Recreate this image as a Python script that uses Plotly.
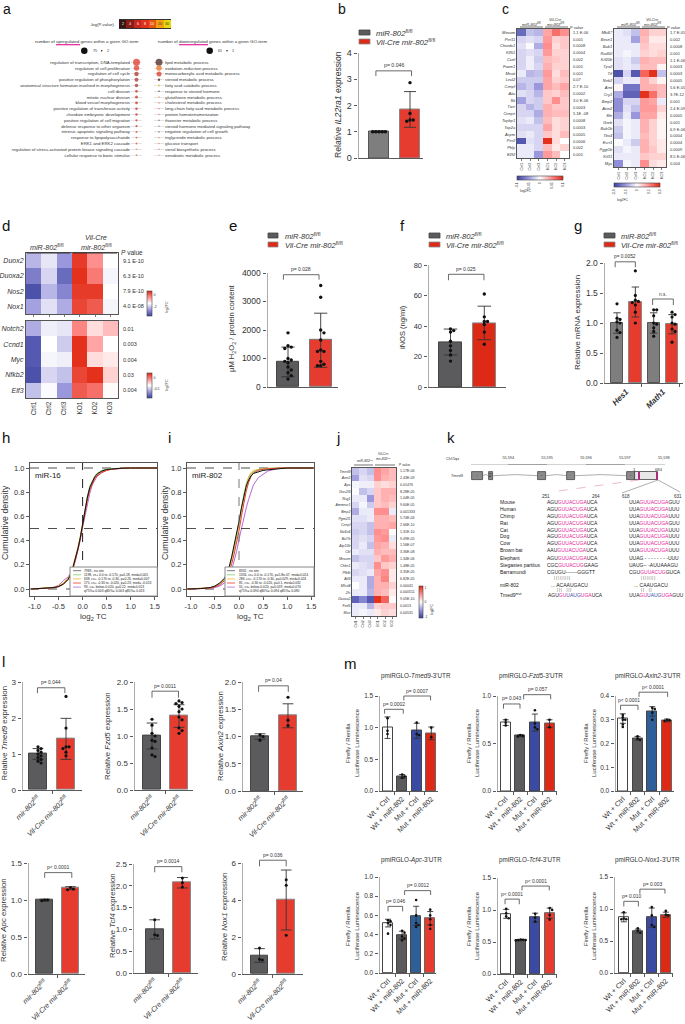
import plotly.graph_objects as go

W, H = 685, 1024
FONT = "Liberation Sans"
TXT = "#333333"
AX = "#5a5a5a"
GREY = "#5b5a5c"
GREY2 = "#7f7e7e"
RED = "#e63c30"
RED2 = "#dd2a17"
BLUE = "#3b4aa3"
STEEL = "#2f5f98"
PINK = "#e6219a"
FL = "<sup>fl/fl</sup>"
MIR = f"<i>miR-802</i>{FL}"
VIL = f"<i>Vil-Cre mir-802</i>{FL}"
CTRL_KO = ["Ctrl1", "Ctrl2", "Ctrl3", "KO1", "KO2", "KO3"]
HSCALE = [[0, "#383f9e"], [0.25, "#9a97dc"], [0.5, "#ffffff"], [0.75, "#ff8f8f"], [1, "#e0260f"]]

# ---- panel a
A_UP_TERMS = ["regulation of transcription, DNA-templated", "regulation of cell proliferation", "regulation of cell cycle",
              "positive regulation of phosphorylation", "anatomical structure formation involved in morphogenesis", "cell division",
              "mitotic nuclear division", "blood vessel morphogenesis", "positive regulation of transferase activity",
              "chordate embryonic development", "positive regulation of cell migration", "defense response to other organism",
              "intrinsic apoptotic signaling pathway", "response to lipopolysaccharide", "ERK1 and ERK2 cascade",
              "regulation of stress-activated protein kinase signaling cascade", "cellular response to biotic stimulus"]
A_UP_SIZE = [7, 5.5, 4.5, 4, 3.5, 2.8, 3, 2.6, 2.6, 2.4, 2.2, 2.2, 2, 1.8, 1.8, 1.6, 1.6]
A_UP_COL = ["#dd2a1a", "#dd3020", "#a52a20", "#a52a20", "#a52a20", "#c52a1c", "#c0241a", "#c0241a", "#c0241a", "#c0241a",
            "#c0241a", "#c0241a", "#d0301a", "#e0402a", "#e0402a", "#f06030", "#e0402a"]
A_DOWN_TERMS = ["lipid metabolic process", "oxidation-reduction process", "monocarboxylic acid metabolic process",
                "steroid metabolic process", "fatty acid catabolic process", "response to steroid hormone",
                "glutathione metabolic process", "cholesterol metabolic process", "long-chain fatty acid metabolic process",
                "protein homotetramerization", "thioester metabolic process", "steroid hormone mediated signaling pathway",
                "negative regulation of cell growth", "triglyceride metabolic process", "glucose transport",
                "sterol biosynthetic process", "xenobiotic metabolic process"]
A_DOWN_SIZE = [7, 5.5, 5, 2.5, 1.8, 1.6, 1.6, 1.5, 1.5, 1.5, 1.4, 1.4, 1.5, 1.4, 1.4, 1.4, 1.4]
A_DOWN_COL = ["#3a1512", "#e8680f", "#dd2a1a", "#3a1512", "#f4a81a", "#3a1512", "#f49030", "#e8604a", "#e8604a", "#e8604a",
              "#5a2a2a", "#5a2a2a", "#7a2a2a", "#e8604a", "#e8604a", "#e8604a", "#e8604a"]
A_SCALE_LABELS = ["2", "4", "6", "8", "10", "20", "30"]
A_SCALE_COL = ["#3a1512", "#8a1d15", "#c5281c", "#e0321e", "#e8560f", "#f4a10f", "#e8d80f"]

# ---- panel b
B_MEAN = [1.0, 1.85]
B_SD = [0.03, 0.68]
B_PTS = [[1.0, 1.0, 1.0, 1.0, 1.0], [2.87, 1.7, 1.45, 1.45, 1.4]]

# ---- panel c
C1_GENES = ["Mecom", "Per11", "Chordc1", "Klf51", "Ccnf", "Foxm1", "Meati", "Lecl2", "Cenpf", "Atic", "Sk", "Ticrr", "Cenpe",
            "Topbp1", "Top2a", "Aspm", "Per2", "Phlp", "E2f2"]
C1_P = ["1.1 E-06", "0.001", "0.0008", "0.0004", "0.002", "0.001", "0.001", "0.07", "2.7 E-10", "0.0002", "3.0 E-06", "0.0003",
        "5.1E -08", "0.0008", "0.0003", "0.0005", "0.0006", "0.002", "0.001"]
C1_Z = [[-.75, -.3, -.35, .4, .65, .5], [-.2, -.15, -.2, .45, .2, .25], [-.15, -.02, -.4, .5, .15, .25],
        [-.2, -.15, -.2, .45, .2, .2], [-.2, -.08, -.25, .3, .25, .2], [-.2, -.08, -.2, .35, .2, .2],
        [-.1, -.35, -.3, .45, .15, .3], [-.25, -.25, -.25, .4, .2, .25], [-.35, -.25, -.5, .4, .3, .4],
        [-.15, -.2, -.35, .25, .2, .3], [-.45, -.2, -.25, .25, .5, .25], [-.2, -.35, -.25, .35, .25, .25],
        [-.2, -.2, -.4, .35, .3, .3], [-.15, -.1, -.3, .3, .15, .2], [-.2, -.2, -.2, .4, .15, .2],
        [-.15, -.1, -.2, .25, .15, .3], [-.85, -.15, -.2, .95, .15, 0], [-.1, -.1, -.2, .3, .1, .2],
        [-.1, -.1, -.5, .45, .3, 0]]
C2_GENES = ["Mki67", "Becn1", "Bub1", "Rad50", "Kif20b", "Tpx2", "Ttf", "Nek2", "Arnt", "Cry1", "Bmp2", "Axin2", "Sfn", "Gorb",
            "Bub1b", "Tbx3", "Esrr1", "Pggt1b", "Kif11", "Myc"]
C2_P = ["1.7 E-05", "0.002", "0.0008", "0.001", "1.1 E-06", "0.0003", "0.0003", "0.0005", "5.6 E-05", "3.7E-12", "0.001",
        "2.4 E-09", "0.0005", "0.001", "6.9 E-06", "0.0004", "0.0004", "0.0009", "8.5 E-06", "0.004"]
C2_Z = [[-.1, -.15, -.3, .35, .2, .2], [-.1, -.1, -.45, .3, .1, .1], [-.1, -.1, -.1, .25, .15, .15],
        [-.1, -.05, -.1, .2, .15, .2], [-.15, -.1, -.25, .35, .3, .3], [-.15, -.1, -.15, .3, .3, .05],
        [-.9, -.2, -.85, .7, .95, -.3], [-.2, -.1, -.1, .35, .2, .05], [.05, -.7, -.7, .35, .35, .3],
        [-.4, -.8, -.8, .95, .65, .3], [-.55, -.2, -.2, .45, .4, -.1], [-.55, -.15, -.3, .45, .45, .2],
        [-.4, -.1, -.5, .4, .4, .1], [-.15, -.05, -.1, .35, .2, .05], [-.25, -.05, -.1, .35, .2, .05],
        [-.3, -.05, -.1, .3, .2, .05], [-.02, -.1, -.25, .35, .2, .1], [-.15, -.05, -.1, .35, .25, .1],
        [-.1, -.1, -.1, .25, .2, .2], [-.55, -.05, -.1, .5, .15, .1]]

# ---- panel d
D1_GENES = ["Duox2", "Duoxa2", "Nos2", "Nox1"]
D1_P = ["9.1 E-10", "6.3 E-10", "7.9 E-10", "4.0 E-08"]
D1_Z = [[-.35, -.12, -.5, .9, .5, 0], [-.65, -.2, -.75, .95, .6, -.05], [-.9, -.35, -.6, .9, .9, 0], [-.45, -.15, -.4, .85, .75, -.05]]
D2_GENES = ["Notch2", "Ccnd1", "Myc", "Nfkb2", "Elf3"]
D2_P = ["0.01", "0.003", "0.004", "0.03", "0.004"]
D2_Z = [[-.4, -.08, -.12, .55, .15, .3], [-.85, 0, -.25, .95, .4, 0], [-.85, -.05, -.08, .95, .15, .1],
        [-.9, -.2, -.3, .85, .95, .2], [-.3, -.02, -.5, .75, .65, .02]]

# ---- panels e, f, g
E_MEAN = [880, 1640]
E_SD = [520, 950]
E_PTS = [[1900, 1450, 1400, 1350, 1000, 950, 900, 850, 700, 600, 500, 400, 280],
         [3560, 3150, 2000, 1900, 1300, 1650, 1250, 1250, 900, 800, 750, 750]]
F_MEAN = [29.5, 42]
F_SD = [8.5, 11]
F_PTS = [[38, 37, 36, 30, 27, 24, 21, 17], [61, 46, 43, 43, 41, 36, 28]]
G_MEAN = [1.0, 1.35, 1.0, 0.98]
G_SD = [0.17, 0.25, 0.17, 0.16]
G_PTS = [[1.32, 1.08, 1.06, 1.02, 1.0, 0.88, 0.84, 0.76],
         [1.87, 1.46, 1.38, 1.36, 1.34, 1.3, 1.18, 1.0],
         [1.22, 1.22, 1.12, 1.0, 0.98, 0.92, 0.86, 0.78],
         [1.18, 1.14, 1.1, 1.0, 0.98, 0.9, 0.86, 0.68]]

# ---- panels h, i
CDF_X = [-1.07, -.8, -.6, -.5, -.4, -.3, -.25, -.2, -.15, -.1, -.05, 0, .05, .1, .15, .2, .25, .3, .4, .5, .6, .8, 1, 1.55]
H_BLACK = [0, .004, .012, .02, .04, .08, .12, .18, .25, .33, .42, .54, .66, .76, .84, .89, .925, .95, .975, .988, .993, .998, 1, 1]
H_GREEN = [0, .004, .012, .02, .04, .075, .115, .175, .245, .325, .43, .55, .67, .77, .85, .895, .93, .955, .98, .99, .995, .998, 1, 1]
H_ORANGE = [0, .005, .014, .025, .05, .09, .13, .19, .26, .34, .43, .54, .65, .75, .83, .885, .92, .945, .972, .985, .992, .998, 1, 1]
H_RED = [0, .003, .01, .02, .04, .08, .115, .17, .24, .32, .41, .52, .64, .74, .82, .87, .91, .935, .965, .98, .99, .997, 1, 1]
H_PURPLE = [0, .005, .015, .03, .07, .1, .13, .17, .23, .31, .4, .51, .61, .71, .79, .86, .9, .93, .96, .98, .99, .998, 1, 1]
I_BLACK = [0, .003, .012, .025, .05, .09, .13, .19, .27, .36, .45, .56, .67, .77, .85, .9, .935, .955, .97, .98, .985, .995, 1, 1]
I_GREEN = [0, .003, .01, .022, .045, .085, .125, .18, .26, .35, .44, .55, .67, .78, .86, .915, .95, .97, .985, .992, .996, .999, 1, 1]
I_ORANGE = [0, .003, .01, .02, .04, .08, .115, .17, .24, .33, .43, .54, .67, .78, .87, .925, .96, .98, .99, .995, .998, 1, 1, 1]
I_RED = [0, .002, .008, .018, .035, .07, .1, .15, .21, .29, .38, .48, .6, .71, .81, .88, .93, .96, .98, .99, .995, .999, 1, 1]
I_PURPLE = [0, .002, .006, .012, .025, .05, .08, .11, .16, .23, .31, .41, .5, .59, .67, .74, .81, .86, .92, .95, .975, .995, 1, 1]
CDF_COLORS = ["#b46ad6", "#f5b428", "#7fd36a", "#ea3a2a", "#111111"]
H_LEG = ["7983 , no site", "1198, cs+ 0.0 to -0.170, p=0.18, med=0.005", "638, cs+ -0.170 to -0.30, p=0.26, med=0.007",
         "175, cs+ -0.30 to -0.020, p=0.23, med= -0.013", "93, cs+ below-0.020, p=0.22, med=0.013",
         "q75%= 0.003 q80%= 0.003 q85%= 0.013"]
I_LEG = ["8332 , no site", "1334, cs+ 0.0 to -0.170, p=5.8e-07, med=0.024", "286, cs+ -0.170 to -0.30, p=0.029, med=0.024",
         "81, cs+ -0.30 to -0.020, p=0.1, med=0.032", "55, cs+ below-0.020, p=0.019, med=0.070",
         "q75%= 0.094 q80%= 0.094 q85%= 0.090"]
LEG_COLORS = ["#555555", "#7fd36a", "#f5b428", "#ea3a2a", "#b46ad6"]

# ---- panel j
J_GENES = ["Tmed9", "Axin2", "Apc", "Gas2l3", "Nsg1", "Ammecr1", "Bmp2", "Pgm2l1", "Cenpf", "Slc6a6", "Bcl7b", "Atp10b", "Cbl",
           "Mecom", "Chkn1", "Pfkfb", "Atf3", "Mfsd4", "2fs", "Duoxa2", "Fzd5", "Mari"]
J_P = ["1.17E-06", "2.43E-09", "0.01476", "8.28E-05", "1.04E-05", "9.60E-05", "0.001333", "5.74E-06", "2.66E-10", "1.31E-10",
       "9.49E-05", "1.56E-07", "3.36E-08", "1.34E-06", "1.48E-05", "3.35E-05", "6.82E-05", "0.00041", "0.000511", "9.05E-10",
       "0.0013", "0.00531"]
J_Z = [[-.3, -.2, -.3, .5, .4, .3], [-.45, -.15, -.2, .5, .35, .3], [-.05, -.08, -.08, .2, .15, .2],
       [-.02, -.3, -.2, .25, .35, .35], [-.1, -.1, -.5, .25, .35, .3], [-.2, -.05, -.25, .25, .3, .2],
       [-.4, -.1, -.1, .5, .5, -.1], [-.15, -.15, -.1, .35, .35, .3], [-.2, -.2, -.3, .35, .35, .4],
       [-.25, -.2, -.3, .5, .45, .02], [-.2, -.15, -.2, .45, .5, -.1], [-.2, -.1, -.3, .4, .35, .15],
       [-.1, -.15, -.15, .35, .3, .3], [-.3, -.2, -.2, .25, .45, .35], [-.1, -.15, -.2, .5, .25, .2],
       [-.2, -.15, -.1, .4, .5, .1], [-.1, -.1, -.4, .35, .55, .1], [0, -.1, -.4, .35, .35, .2],
       [-.1, -.1, -.35, .35, .3, .1], [-.8, -.6, -.85, .95, .7, .02], [-.1, -.1, -.35, .2, .25, .25],
       [-.1, -.05, -.1, .1, .2, .15]]

# ---- panel k
K_TICKS = [55593, 55594, 55595, 55596, 55597, 55598]
K_TICKTEXT = ["55,593", "55,594", "55,595", "55,596", "55,597", "55,598"]
K_EXON_START = [55593.08, 55593.50, 55594.76, 55595.52, 55597.06]
K_EXON_END = [55593.34, 55593.62, 55594.96, 55595.72, 55597.26]
K_EXON_NAME = ["1", "2", "3", "4", "5"]
K_UTR = [55597.26, 55597.86]
K_SITES = [[55597.35, 55597.40], [55597.79, 55597.85]]
K_SPECIES = ["Mouse", "Human", "Chimp", "Rat", "Cat", "Dog", "Cow", "Brown bat", "Elephant", "Stegastes partitus", "Barramundi"]
K_SEQ1 = [("AGU", "GUUACUGA", "UCA"), ("AGU", "GUUACUGA", "UCA"), ("AGU", "GUUACUGA", "UCA"), ("AGU", "GUUACUGA", "UCA"),
          ("AGU", "GUUACUGA", "UCA"), ("AGU", "GUUACUGA", "UCA"), ("AGU", "GUUACUGA", "UCA"), ("AAU", "GUUACUGA", "UCA"),
          ("AGU", "GUUACUGA", "UCA"), ("CGC", "GUUACUG", "GAAG"), ("CGUGU-------GGGTT", "", "")]
K_SEQ2 = [("UUA", "GUUACUGA", "GUU"), ("UUA", "GUUACUGA", "UUU"), ("UUA", "GUUACUGA", "UUU"), ("UUA", "GUUACUGA", "GUU"),
          ("UUA", "GUUACUGA", "UUU"), ("UUA", "GUUACUGA", "UUU"), ("UUA", "GUUACUGA", "UUU"), ("UUA", "GUUACUGA", "UUU"),
          ("UUAG - - - - - - - -UUU", "", ""), ("UAUG-- -AUUAAAGU", "", ""), ("CGU", "GUUACUG", "GUCA")]

# ---- panel l
L1_MEAN, L1_SD = [1.0, 1.42], [0.15, 0.57]
L1_PTS = [[1.2, 1.15, 1.1, 1.05, 1.0, 0.95, 0.9, 0.85, 0.8, 0.75], [2.6, 1.72, 1.2, 1.2, 1.15, 1.05, 0.95]]
L2_MEAN, L2_SD = [1.0, 1.37], [0.24, 0.21]
L2_PTS = [[1.31, 1.2, 1.05, 1.0, 0.92, 0.9, 0.78, 0.65, 0.62], [1.65, 1.62, 1.6, 1.55, 1.5, 1.45, 1.35, 1.3, 1.15, 1.1, 1.05]]
L3_MEAN, L3_SD = [1.0, 1.38], [0.05, 0.22]
L3_PTS = [[1.03, 1.0, 0.93], [1.72, 1.3, 1.2]]
L4_MEAN, L4_SD = [1.0, 1.16], [0.01, 0.02]
L4_PTS = [[1.0, 1.0, 0.99], [1.17, 1.15, 1.14]]
L5_MEAN, L5_SD = [1.0, 2.07], [0.22, 0.12]
L5_PTS = [[1.22, 0.88, 0.86], [2.18, 2.07, 1.97]]
L6_MEAN, L6_SD = [1.0, 4.0], [0.37, 1.62]
L6_PTS = [[1.4, 0.8, 0.75], [5.1, 4.8, 2.1]]

# ---- panel m
M_CATS = ["Wt + Ctrl", "Wt + miR-802", "Mut + Ctrl", "Mut + miR-802"]
M1_MEAN, M1_SD = [1.0, 0.23, 0.95, 0.91], [0.17, 0.03, 0.12, 0.1]
M1_PTS = [[1.15, 0.95, 0.9], [0.26, 0.23, 0.21], [1.08, 0.9, 0.88], [1.0, 0.85]]
M2_MEAN, M2_SD = [0.72, 0.58, 0.72, 0.71], [0.03, 0.01, 0.09, 0.04]
M2_PTS = [[0.75, 0.72, 0.69], [0.59, 0.58, 0.575], [0.85, 0.71, 0.67, 0.65], [0.75, 0.67]]
M3_MEAN, M3_SD = [0.305, 0.222, 0.335, 0.297], [0.02, 0.008, 0.02, 0.006]
M3_PTS = [[0.32, 0.31, 0.3, 0.3, 0.28, 0.27], [0.23, 0.22, 0.215], [0.35, 0.345, 0.33, 0.3], [0.3, 0.298, 0.295]]
M4_MEAN, M4_SD = [0.52, 0.395, 0.595, 0.57], [0.04, 0.04, 0.1, 0.07]
M4_PTS = [[0.55, 0.54, 0.52, 0.5, 0.41], [0.44, 0.42, 0.38, 0.36, 0.34], [0.76, 0.6, 0.52, 0.5, 0.48], [0.66, 0.6, 0.56, 0.5, 0.46]]
M5_MEAN, M5_SD = [0.94, 0.53, 0.88, 0.95], [0.07, 0.01, 0.07, 0.08]
M5_PTS = [[1.02, 0.95, 0.9, 0.87], [0.54, 0.535, 0.53, 0.53, 0.525], [0.94, 0.88, 0.82], [1.03, 1.0, 0.92, 0.85]]
M6_MEAN, M6_SD = [0.87, 0.655, 0.865, 0.91], [0.07, 0.03, 0.15, 0.04]
M6_PTS = [[0.95, 0.85, 0.84, 0.84], [0.7, 0.66, 0.63], [1.03, 0.9, 0.75, 0.72], [0.97, 0.91, 0.9]]

# ------------------------------------------------------------------ helpers
fig = go.Figure()
annotations, shapes = [], []
axis_count = 0


def px(x):
    return x / W


def py(y):
    return 1 - y / H


def T(x, y, text, size=5, anchor="center", angle=0, color=TXT, va="middle"):
    annotations.append(dict(x=px(x), y=py(y), xref="paper", yref="paper", text=text, showarrow=False, xanchor=anchor,
                            yanchor=va, textangle=angle, font=dict(size=size, color=color, family=FONT)))


def R(x0, y0, x1, y1, fill="rgba(0,0,0,0)", line="rgba(0,0,0,0)", lw=0.8, layer="above"):
    shapes.append(dict(type="rect", xref="paper", yref="paper", x0=px(x0), x1=px(x1), y0=py(y0), y1=py(y1), fillcolor=fill,
                       line=dict(color=line, width=lw), layer=layer))


def L(x0, y0, x1, y1, color=AX, lw=0.8, dash="solid"):
    shapes.append(dict(type="line", xref="paper", yref="paper", x0=px(x0), x1=px(x1), y0=py(y0), y1=py(y1),
                       line=dict(color=color, width=lw, dash=dash), layer="above"))


def C(x, y, d, color):
    shapes.append(dict(type="circle", xref="paper", yref="paper", x0=px(x - d / 2), x1=px(x + d / 2), y0=py(y - d / 2),
                       y1=py(y + d / 2), fillcolor=color, line=dict(width=0), layer="above"))


def add_axes(rect, xopts, yopts):
    global axis_count
    axis_count += 1
    n = "" if axis_count == 1 else str(axis_count)
    xn, yn = f"x{n}", f"y{n}"
    x0, y0, x1, y1 = rect
    base = dict(showgrid=False, zeroline=False, tickfont=dict(family=FONT, color=TXT))
    xa = dict(base, domain=[px(x0), px(x1)], anchor=yn, **xopts)
    ya = dict(base, domain=[py(y1), py(y0)], anchor=xn, **yopts)
    fig.update_layout(**{f"xaxis{n}": xa, f"yaxis{n}": ya})
    return xn, yn


def swarm(values, unit_px, step_px, d=3.4):
    placed, out = [], []
    for v in values:
        for k in range(0, 12):
            off = ((k + 1) // 2) * (1 if k % 2 else -1) * d * 0.95
            if all((abs(v - pv) * unit_px) ** 2 + (off - po) ** 2 >= (d * 0.85) ** 2 for pv, po in placed):
                break
        placed.append((v, off))
        out.append(off / step_px)
    return out


def bar_panel(rect, ymax, yticks, yticktext, c0, step, bw, mean, sd, pts, fills, lines, cats, cat_size, tick_size, brackets,
              p_size=5, dot=3.4, lw=1.0, cat_angle=-45, cat_vals=None, minor=None):
    x0, y0, x1, y1 = rect
    unit = (y1 - y0) / ymax
    head = 0.3 * (y1 - y0)                    # headroom so brackets above the last tick are inside the plot
    xlo, xhi = (x0 - c0) / step, (x1 - c0) / step
    xo = dict(range=[xlo, xhi], showline=True, linecolor=AX, linewidth=1)
    if cats:
        xo.update(tickmode="array", tickvals=cat_vals if cat_vals is not None else list(range(len(mean))), ticktext=cats,
                  tickangle=cat_angle, ticklen=0, tickfont=dict(family=FONT, color=TXT, size=cat_size))
    else:
        xo.update(showticklabels=False)
    xo["minor"] = dict(tickmode="array", tickvals=minor if minor is not None else [(len(mean) - 1) / 2], ticks="outside", ticklen=2.5,
                       tickcolor=AX, tickwidth=1)
    yo = dict(range=[0, ymax + head / unit], tickmode="array", tickvals=yticks, ticktext=yticktext, ticks="outside", ticklen=3.5, tickwidth=1,
              tickcolor=AX, showline=False, tickfont=dict(family=FONT, color=TXT, size=tick_size))
    xn, yn = add_axes((x0, y0 - head, x1, y1), xo, yo)
    fig.add_trace(go.Scatter(x=[xlo, xlo], y=[0, ymax], mode="lines", xaxis=xn, yaxis=yn, showlegend=False, cliponaxis=False,
                             line=dict(color=AX, width=1)))
    fig.add_trace(go.Bar(x=list(range(len(mean))), y=mean, width=bw / step, xaxis=xn, yaxis=yn, showlegend=False,
                         marker=dict(color=fills, line=dict(color=lines, width=lw)),
                         error_y=dict(type="data", array=sd, color="#333333", thickness=0.9, width=bw * 0.3)))
    for i, vals in enumerate(pts):
        offs = swarm(vals, unit, step, dot)
        fig.add_trace(go.Scatter(x=[i + o for o in offs], y=vals, mode="markers", xaxis=xn, yaxis=yn, showlegend=False, cliponaxis=False,
                                 marker=dict(color="#111111", size=dot)))
    for b in brackets:
        xa, xb, top, leg, label = b
        fig.add_trace(go.Scatter(x=[xa, xa, xb, xb], y=[leg, top, top, leg], mode="lines", xaxis=xn, yaxis=yn, showlegend=False,
                                 cliponaxis=False, line=dict(color="#444444", width=0.8)))
        annotations.append(dict(x=(xa + xb) / 2, y=top, xref=xn, yref=yn, text=label, showarrow=False, yanchor="bottom", yshift=0.5,
                                font=dict(size=p_size, color=TXT, family=FONT)))
    return xn, yn


def heat(rect, z, genes, pvals, p_x, label_size, cbar, xlabels=True, x_size=None, p_size=None, frame=1.0, xticks=True):
    xo = dict(range=[-0.5, 5.5], tickmode="array", tickvals=list(range(6)), ticktext=CTRL_KO, showticklabels=xlabels, tickangle=-90,
              showline=True, mirror=True, linecolor="#555555", linewidth=frame, ticks="outside" if xticks else "", ticklen=2, tickwidth=0.5,
              tickcolor="#777777", tickfont=dict(family=FONT, color=TXT, size=x_size or label_size))
    yo = dict(range=[len(genes) - 0.5, -0.5], tickmode="array", tickvals=list(range(len(genes))),
              ticktext=[f"<i>{g}</i>" for g in genes], ticklen=0, showline=True, mirror=True, linecolor="#555555", linewidth=frame,
              tickfont=dict(family=FONT, color=TXT, size=label_size))
    xn, yn = add_axes(rect, xo, yo)
    tr = go.Heatmap(z=z, x=list(range(6)), y=list(range(len(genes))), xaxis=xn, yaxis=yn, zmin=-1, zmax=1, colorscale=HSCALE, showscale=cbar is not None)
    if cbar:
        tr.colorbar = cbar
    fig.add_trace(tr)
    for i, p in enumerate(pvals):
        annotations.append(dict(x=px(p_x), y=i, xref="paper", yref=yn, text=p, showarrow=False, xanchor="left",
                                font=dict(size=p_size or label_size, color=TXT, family=FONT)))


def cb(x, y, length, thick, vals, text, h=False, size=4):
    d = dict(x=px(x), y=py(y), xanchor="left", yanchor="top", lenmode="pixels", len=length, thicknessmode="pixels", thickness=thick,
             xpad=0, ypad=0, outlinecolor="#444444", outlinewidth=0.6, tickmode="array", tickvals=vals, ticktext=text, ticklen=0,
             tickfont=dict(size=size, family=FONT, color=TXT))
    if h:
        d["orientation"] = "h"
        d["tickangle"] = -90
    return d


def legend2(xs, xe, xt, y1, y2, size):
    R(xs, y1, xe, y1 + 5, fill=GREY, line="#444444")
    R(xs, y2, xe, y2 + 5, fill=RED2, line="#888888")
    T(xt, y1 + 2.5, MIR, size, "left")
    T(xt, y2 + 2.5, VIL, size, "left")


def dna(parts):
    a, b, c = parts
    return f'{a}<span style="color:{PINK}">{b}</span>{c}' if b else a


# ------------------------------------------------------------------ panel letters
for letter, x, y, s in [("a", 1, 9.2, 14), ("b", 336, 9.2, 14), ("c", 500, 9.2, 14), ("d", 0, 225, 15), ("e", 227, 225, 15), ("f", 398, 225, 15),
                        ("g", 572, 225, 15), ("h", 0, 437, 15), ("i", 166, 437, 15), ("j", 334, 437, 15), ("k", 445, 437, 15), ("l", 0, 661, 15),
                        ("m", 342, 663, 15)]:
    T(x, y, letter, s, "left", color="#111111")

# ------------------------------------------------------------------ panel a
xn, yn = add_axes((119, 20, 171, 28), dict(range=[-.5, 6.5], showticklabels=False, showline=True, mirror=True, linecolor="#333333", linewidth=1),
                  dict(range=[-.5, .5], showticklabels=False))
fig.add_trace(go.Heatmap(z=[list(range(7))], xaxis=xn, yaxis=yn, showscale=False, zmin=0, zmax=6,
                         colorscale=[[i / 6, c] for i, c in enumerate(A_SCALE_COL)]))
for i, s in enumerate(A_SCALE_LABELS):
    annotations.append(dict(x=i, y=0, xref=xn, yref=yn, text=s, showarrow=False,
                            font=dict(size=3.6, family=FONT, color="#ffffff" if i < 5 else "#333333")))
T(102, 24, "-log(P-value)", 4.2, "center")
T(87, 41, "number of upregulated genes within a given GO-term", 4.4)
T(213, 41, "number of downregulated genes within a given GO-term", 4.4)
L(56, 44.7, 80, 44.7, PINK, 1.2)
L(179, 44.7, 208, 44.7, PINK, 1.2)
C(84.3, 50.7, 6.5, "#111111")
T(91, 50.7, "75", 3.8, "left")
C(101.7, 50.7, 1.5, "#111111")
T(104.5, 50.7, "2", 3.8, "left")
C(209.7, 50.7, 6.5, "#111111")
T(216, 50.7, "61", 3.8, "left")
C(227, 50.7, 1.5, "#111111")
T(229.5, 50.7, "1", 3.8, "left")

for rect, terms, sizes, cols, side in [((131, 59.4, 142, 158), A_UP_TERMS, A_UP_SIZE, A_UP_COL, "left"),
                                       ((154, 59.4, 164, 158), A_DOWN_TERMS, A_DOWN_SIZE, A_DOWN_COL, "right")]:
    xn, yn = add_axes(rect, dict(range=[-1, 1], showticklabels=False),
                      dict(range=[len(terms) - .5, -.5], side=side, tickmode="array", tickvals=list(range(len(terms))), ticktext=terms,
                           showgrid=True, gridcolor="#e4e4e4", gridwidth=0.5, ticklen=0, tickfont=dict(size=4.3, family=FONT, color=TXT)))
    fig.add_trace(go.Scatter(x=[0] * len(terms), y=list(range(len(terms))), mode="markers", xaxis=xn, yaxis=yn, showlegend=False, cliponaxis=False,
                             marker=dict(size=sizes, color=cols, line=dict(width=0))))

# ------------------------------------------------------------------ panel b
legend2(359, 370, 374, 30, 39, 7.8)
bar_panel((358, 53, 423, 158), 4, [0, 1, 2, 3, 4], ["0", "1", "2", "3", "4"], 379, 31, 20, B_MEAN, B_SD, B_PTS, [GREY2, RED], ["#555555", "#888888"],
          None, 8, 9, [(-.1, 1.05, 3.32, 3.12, "p= 0.046")], p_size=5.2, minor=[])
T(338, 105, "Relative <i>IL22ra1</i> expression", 8.6, angle=-90)

# ------------------------------------------------------------------ panel c
heat((517, 29, 569, 158), C1_Z, C1_GENES, C1_P, 571, 4,
     cb(517, 176, 46, 4, [-1, -.5, 0, .5, 1], ["-0.1", "-0.05", "0", "0.05", "0.1"], True, 3.5), x_size=3.8)
heat((614, 29, 666, 167), C2_Z, C2_GENES, C2_P, 668, 4,
     cb(614, 183, 46, 4, [-1, -.5, 0, .5, 1], ["-1.0", "-0.5", "0", "0.5", "1.0"], True, 3.5), x_size=3.8)
for lx, rx, ax0 in [(531.7, 555, 520), (630, 652, 617)]:
    T(lx, 24, MIR, 4)
    T(rx, 19.5, "<i>Vil-Cre</i>", 4)
    T(rx, 24, f"<i>mir-802</i>{FL}", 4)
    L(ax0, 27, ax0 + 23, 27, "#333333", 0.7)
    L(ax0 + 25, 27, ax0 + 48, 27, "#333333", 0.7)
T(577, 27, "P value", 4)
T(674, 27, "P value", 4)
T(525, 191, "log2FC", 3.4)
T(622, 200, "log2FC", 3.4)

# ------------------------------------------------------------------ panel d
heat((26, 253, 118, 314), D1_Z, D1_GENES, D1_P, 121, 7, cb(147, 291, 25, 5, [.68, -.25], ["0", "-2"], False, 3.5), xlabels=False, p_size=5.5)
heat((26, 321, 118, 398), D2_Z, D2_GENES, D2_P, 121, 7, cb(147, 373, 25, 5, [.6, -.3], ["0", "-0.5"], False, 3.5), x_size=6.5, p_size=5.5, xticks=False)
T(47, 247, MIR, 7.2)
T(96, 237, "<i>Vil-Cre</i>", 7.2)
T(96, 247, f"<i>mir-802</i>{FL}", 7.2)
L(27, 253, 70, 253, "#333333", 1)
L(73, 253, 117, 253, "#333333", 1)
T(132, 252, "<i>P</i> value", 6.5)
T(167, 307, "log2FC", 3.6, angle=-90)
T(167, 385, "log2FC", 3.6, angle=-90)

# ------------------------------------------------------------------ panels e, f, g
legend2(268, 278, 283, 233, 242, 7.6)
bar_panel((267, 273, 338, 387), 4000, [0, 1000, 2000, 3000, 4000], ["0", "1000", "2000", "3000", "4000"], 288, 32.7, 22, E_MEAN, E_SD, E_PTS,
          [GREY, RED], ["#444444", "#777777"], None, 8, 8.5, [(-.14, .95, 3940, 3766, "p= 0.028")], p_size=5, minor=[], lw=1)
T(232, 328, "µM H<sub>2</sub>O<sub>2</sub> / protein content", 7.6, angle=-90)

legend2(429, 440, 444, 233, 242, 7.6)
bar_panel((428, 265, 506, 387), 80, [0, 20, 40, 60, 80], ["0", "20", "40", "60", "80"], 450.5, 33.8, 22.5, F_MEAN, F_SD, F_PTS,
          [GREY, RED2], ["#444444", "#888888"], None, 8, 7.5, [(-.06, .99, 73.9, 70, "p= 0.025")], p_size=5, minor=[])
T(402, 327, "iNOS (ng/ml)", 7.5, angle=-90)

legend2(604, 615, 619, 233, 242, 7.5)
bar_panel((604, 263, 683, 383), 2, [0, .5, 1, 1.5, 2], ["0.0", "0.5", "1.0", "1.5", "2.0"], 617, 18.35, 12.3, G_MEAN, G_SD, G_PTS,
          [GREY2, RED, GREY2, RED], ["#555555", "#888888", "#555555", "#888888"], ["<b><i>Hes1</i></b>", "<b><i>Math1</i></b>"], 8, 8.5,
          [(-.1, 1, 2.02, 1.93, "p= 0.0052"), (1.94, 3.07, 1.4, 1.3, "n.s.")], p_size=4.8, dot=3.2, cat_vals=[.5, 2.5], minor=[1.35, 3.4])
T(577, 323, "Relative mRNA expression", 8, angle=-90)

# ------------------------------------------------------------------ panels h, i
for rect, zero_style, curves, leg, name, lx, box, sx, tx in [
    ((30, 463, 157.3, 596), "#222222", [H_PURPLE, H_ORANGE, H_GREEN, H_RED, H_BLACK], H_LEG, "miR-16", 33, 70, 73, 82),
    ((187, 463, 314, 596), "#777777", [I_PURPLE, I_ORANGE, I_GREEN, I_RED, I_BLACK], I_LEG, "miR-802", 190, 225, 227, 237)]:
    zero = 82.6 if rect[0] == 30 else 239
    k = 48.1
    xo = dict(range=[(rect[0] - zero) / k, (rect[2] - zero) / k], tickmode="array", tickvals=[-1, -.5, 0, .5, 1, 1.5],
              ticktext=["-1.0", "-0.5", "0.0", "0.5", "1.0", "1.5"], ticks="outside", ticklen=3, tickcolor=AX, showline=True, mirror=True,
              linecolor="#555555", linewidth=1, tickfont=dict(size=7.5, family=FONT, color=TXT))
    yo = dict(range=[-7 / 121, 1 + 5 / 121], tickmode="array", tickvals=[0, .2, .4, .6, .8, 1], ticktext=["0.0", "0.2", "0.4", "0.6", "0.8", "1.0"],
              ticks="outside", ticklen=3, tickcolor=AX, showline=True, mirror=True, linecolor="#555555", linewidth=1,
              tickfont=dict(size=7.5, family=FONT, color=TXT))
    xn, yn = add_axes(rect, xo, yo)
    for yv in (0, .5, 1):
        shapes.append(dict(type="line", xref=xn, yref=yn, x0=xo["range"][0], x1=xo["range"][1], y0=yv, y1=yv,
                           line=dict(color="#222222", width=0.8, dash="dash"), layer="above" if yv == .5 else "below"))
    shapes.append(dict(type="line", xref=xn, yref=yn, x0=0, x1=0, y0=yo["range"][0], y1=yo["range"][1],
                       line=dict(color=zero_style, width=1, dash="dash"), layer="above"))
    for vals, col in zip(curves, CDF_COLORS):
        fig.add_trace(go.Scatter(x=CDF_X, y=vals, mode="lines", xaxis=xn, yaxis=yn, showlegend=False, line=dict(color=col, width=1)))
    R(box, 567, rect[2], 596, fill="#ffffff", line="#888888", lw=1)
    for i, t in enumerate(leg):
        yy = 570.7 + i * 4.1
        T(tx, yy, t, 3.3, "left", color="#222222")
        if i < 5:
            L(sx, yy, sx + 8, yy, LEG_COLORS[i], 0.8)
    T(lx, 475, name, 8, "left", color="#222222")
T(5, 523, "Cumulative density", 8.8, angle=-90)
T(165, 523, "Cumulative density", 8.8, angle=-90)
T(93.7, 617, "log<sub>2</sub> TC", 8)
T(250, 617, "log<sub>2</sub> TC", 8)

# ------------------------------------------------------------------ panel j
heat((352, 468, 396, 616), J_Z, J_GENES, J_P, 398, 3.5, cb(419, 586, 32, 4, [.9, 0, -.9], ["1", "0", "-1"], False, 3.4), x_size=3.4, p_size=3.6, frame=0.8)
T(365, 461, MIR, 3.4)
T(383, 454, "<i>Vil-Cre</i>", 3.4)
T(383, 459, f"<i>mir-802</i>{FL}", 3.4)
L(354, 465, 373, 465, "#333333", 0.7)
L(375, 465, 395, 465, "#333333", 0.7)
T(404, 465, "P value", 3.4)
T(432, 610, "log2FC", 3.4, angle=-90)

# ------------------------------------------------------------------ panel k
kb0 = 55593 + (471 - 469.3) / 38.9
kb1 = 55593 + (665 - 469.3) / 38.9
xn, yn = add_axes((471, 464, 665, 482),
                  dict(range=[kb0, kb1], side="top", tickmode="array", tickvals=K_TICKS, ticktext=K_TICKTEXT, ticks="outside", ticklen=2,
                       tickcolor="rgba(0,0,0,0)", tickfont=dict(size=3.8, family=FONT, color=TXT)),
                  dict(range=[0, 1], showticklabels=False))
for a, b, c in [(kb0, 55594, "#a8a8a8"), (55594, 55595, "#444444"), (55595, 55596, "#a8a8a8"), (55596, 55597, "#444444"), (55597, kb1, "#a8a8a8")]:
    fig.add_trace(go.Scatter(x=[a, b], y=[1, 1], mode="lines", xaxis=xn, yaxis=yn, showlegend=False, cliponaxis=False, line=dict(color=c, width=1)))
gene_y = 0.35
for i in range(len(K_EXON_END) - 1):
    a, b = K_EXON_END[i], K_EXON_START[i + 1]
    fig.add_trace(go.Scatter(x=[a, (a + b) / 2, b], y=[gene_y, gene_y + .06, gene_y], mode="lines", xaxis=xn, yaxis=yn, showlegend=False,
                             line=dict(color="#777777", width=0.6)))
fig.add_trace(go.Bar(x=[K_UTR[1] - K_UTR[0]], base=[K_UTR[0]], y=[gene_y], orientation="h", width=.44, xaxis=xn, yaxis=yn, showlegend=False,
                     marker=dict(color="#e8e8e8", line=dict(color="#666666", width=1))))
fig.add_trace(go.Bar(x=[b - a for a, b in K_SITES], base=[a for a, b in K_SITES], y=[gene_y] * 2, orientation="h", width=.44, xaxis=xn, yaxis=yn, showlegend=False,
                     marker=dict(color="#b02a80", line=dict(width=0))))
fig.add_trace(go.Bar(x=[b - a for a, b in zip(K_EXON_START, K_EXON_END)], base=K_EXON_START, y=[gene_y] * 5, orientation="h", width=.44,
                     xaxis=xn, yaxis=yn, showlegend=False, text=K_EXON_NAME, textposition="inside", insidetextanchor="middle", textangle=0,
                     insidetextfont=dict(size=4.5, color="#222222", family=FONT), marker=dict(color="#8a8a8a", line=dict(color="#444444", width=0.8))))
fig.update_layout(barmode="overlay")
T(444, 459, "Ch15qx", 3.8, "left")
T(449, 476, "<i>Tmed9</i>", 3.8, "left")
T(634, 469, "1", 4.2)
T(659, 469, "684", 4.2)
L(639, 480, 551, 492, "#e28ab8", 0.6, "dash")
L(658, 480, 622, 493, "#777777", 0.6)
L(658, 480, 680, 492, "#777777", 0.6)
T(546, 496, "251", 4.6)
T(596, 496, "264", 4.6)
T(626, 496, "618", 4.6)
T(678, 496, "631", 4.6)
K_Y = [502.3, 509.3, 516, 522.7, 529.7, 536.3, 543.3, 550, 558.3, 565, 571.7]
for name, s1, s2, yy in zip(K_SPECIES, K_SEQ1, K_SEQ2, K_Y):
    T(498, yy, name, 5, "left", color="#222222")
    T(545, yy, dna(s1), 5, "left", color="#222222")
    T(627, yy, dna(s2), 5, "left", color="#222222")
T(552, 578, "| | | | | | | | |", 3.5, "left")
T(639, 578, "| | | | | | | |", 3.5, "left")
T(498, 585, "miR-802", 5, "left", color="#222222")
T(549, 585, "... ACAAUGACU", 5, "left", color="#222222")
T(632, 585, "... CAAUGACU", 5, "left", color="#222222")
T(555, 590, "| | |     | | |", 3.5, "left")
T(639, 590, "| |     | |", 3.5, "left")
T(498, 595, "Tmed9<sup>mut</sup>", 5, "left", color="#222222")
T(546, 595, f'AGU<span style="color:{PINK}">GU</span><span style="color:{BLUE}">UAUG</span><span style="color:{PINK}">UGA</span>UCA', 5, "left", color="#222222")
T(627, 595, f'UUA<span style="color:{PINK}">GU</span><span style="color:{BLUE}">UAUG</span><span style="color:{PINK}">UGA</span>GUU', 5, "left", color="#222222")

# ------------------------------------------------------------------ panel l
CATS_L = [f"<i>mir-802</i>{FL}", f"<i>Vil-Cre mir-802</i>{FL}"]
two = [GREY, RED]
twol = ["#444444", "#888888"]
CAT_L = 7.2
bar_panel((22, 682, 82, 790), 3, [0, 1, 2, 3], ["0", "1", "2", "3"], 38, 28, 18, L1_MEAN, L1_SD, L1_PTS, two, twol, CATS_L, CAT_L, 8,
          [(-.02, .96, 2.84, 2.69, "p= 0.044")], p_size=5, dot=3.2)
T(3.5, 733, "Relative <i>Tmed9</i> expression", 7.8, angle=-90)
bar_panel((134, 682, 193, 790), 2, [0, .5, 1, 1.5, 2], ["0.0", "0.5", "1.0", "1.5", "2.0"], 152, 27, 18, L2_MEAN, L2_SD, L2_PTS, two, twol, CATS_L, CAT_L, 8,
          [(0, .98, 1.83, 1.71, "p= 0.0011")], p_size=5, dot=3.2)
T(107, 736, "Relative <i>Fzd5</i> expression", 7.8, angle=-90)
bar_panel((242, 682, 303, 791), 2, [0, .5, 1, 1.5, 2], ["0.0", "0.5", "1.0", "1.5", "2.0"], 260, 28, 18, L3_MEAN, L3_SD, L3_PTS, two, twol, CATS_L, CAT_L, 8,
          [(-.05, 1.01, 1.93, 1.82, "p= 0.04")], p_size=5, dot=3.2)
T(220, 736, "Relative <i>Axin2</i> expression", 7.8, angle=-90)
bar_panel((28, 863, 85, 974), 1.5, [0, .5, 1, 1.5], ["0.0", "0.5", "1.0", "1.5"], 44.7, 25.8, 17.5, L4_MEAN, L4_SD, L4_PTS, two, twol, CATS_L, CAT_L, 8,
          [(0, 1.05, 1.37, 1.30, "p&lt; 0.0001")], p_size=5, dot=3)
T(3, 920, "Relative <i>Apc</i> expression", 7.8, angle=-90)
bar_panel((133, 864, 198, 973), 2.5, [0, .5, 1, 1.5, 2, 2.5], ["0.0", "0.5", "1.0", "1.5", "2.0", "2.5"], 154.7, 27.7, 18, L5_MEAN, L5_SD, L5_PTS, two, twol,
          CATS_L, CAT_L, 8, [(0, .98, 2.44, 2.31, "p= 0.0014")], p_size=5, dot=3)
T(112, 916, "Relative <i>Tcf4</i> expression", 7.8, angle=-90)
bar_panel((242, 863, 303, 974), 6, [0, 2, 4, 6], ["0", "2", "4", "6"], 259.5, 26.7, 17.7, L6_MEAN, L6_SD, L6_PTS, two, twol, CATS_L, CAT_L, 8,
          [(0, 1, 6.15, 5.82, "p= 0.036")], p_size=5, dot=3)
T(224, 917, "Relative <i>Nox1</i> expression", 7.8, angle=-90)

# ------------------------------------------------------------------ panel m
LINE4 = ["#444444", "#444444", "#444444", "#666666"]
MP = [
    ((379, 696, 438, 791), 1.5, [0, .5, 1, 1.5], ["0.0", "0.5", "1.0", "1.5"], 387.5, 14.6, M1_MEAN, M1_SD, M1_PTS, BLUE, RED2,
     [(-.2, 1.08, 1.29, 1.22, "p= 0.0002"), (1.12, 2.95, 1.5, 1.43, "p= 0.0007")], "Tmed9", 378 / 3 + 290, 676, 348, 357, 743),
    ((497, 696, 557, 791), 1.0, [0, .5, 1], ["0.0", "0.5", "1.0"], 505.7, 14.6, M2_MEAN, M2_SD, M2_PTS, BLUE, RED2,
     [(-.15, .98, .916, .867, "p= 0.043"), (1.23, 3.08, 1.014, .965, "p= 0.057")], "Fzd5", 724 / 3 + 290, 676, 469, 477, 743),
    ((615, 696, 674, 791), 0.4, [0, .1, .2, .3, .4], ["0.0", "0.1", "0.2", "0.3", "0.4"], 622.8, 14.75, M3_MEAN, M3_SD, M3_PTS, STEEL, RED2,
     [(-.15, 1.03, .361, .341, "p&lt; 0.0001"), (1.1, 3.04, .416, .396, "p&lt; 0.0001")], "Axin2", 1074 / 3 + 290, 676, 586, 594, 743),
    ((379, 877, 436, 973), 1.0, [0, .2, .4, .6, .8, 1], ["0.0", "0.2", "0.4", "0.6", "0.8", "1.0"], 388, 14.07, M4_MEAN, M4_SD, M4_PTS, STEEL, RED,
     [(0, 1.04, .694, .642, "p= 0.046"), (1.18, 3.03, .858, .812, "p= 0.0012")], "Apc", 365 / 3 + 290, 860, 348, 357, 926),
    ((497, 878, 557, 974), 1.5, [0, .5, 1, 1.5], ["0.0", "0.5", "1.0", "1.5"], 506.2, 14.5, M5_MEAN, M5_SD, M5_PTS, BLUE, RED,
     [(-.08, .9, 1.17, 1.09, "p&lt; 0.0001"), (1.09, 2.97, 1.374, 1.306, "p&lt; 0.0001")], "Tcf4", 720 / 3 + 290, 860, 469, 477, 926),
    ((614, 877, 673, 973), 1.5, [0, .5, 1, 1.5], ["0.0", "0.5", "1.0", "1.5"], 623.8, 14, M6_MEAN, M6_SD, M6_PTS, BLUE, RED2,
     [(0, 1.04, 1.12, 1.04, "p= 0.010"), (1.15, 2.94, 1.31, 1.24, "p= 0.003")], "Nox1", 1073 / 3 + 290, 860, 586, 594, 926),
]
for rect, ymax, yt, ytt, c0, step, mean, sd, pts, blue, red, br, gene, tx, ty, l1, l2, ly in MP:
    bar_panel(rect, ymax, yt, ytt, c0, step, 10, mean, sd, pts, ["#ffffff", GREY, blue, red], LINE4, M_CATS, 7.2, 6.5, br, p_size=4.9, dot=2.6,
              minor=[.5, 1.5, 2.5, 3.5])
    T(tx, ty, f"pmiRGLO-<i>{gene}</i>-3'UTR", 6.3)
    T(l1, ly, "Firefly / Renilla", 6, angle=-90)
    T(l2, ly, "Luciferase Luminescence", 6, angle=-90)

fig.update_layout(width=W, height=H, autosize=False, margin=dict(l=0, r=0, t=0, b=0, pad=0, autoexpand=False), paper_bgcolor="#ffffff",
                  plot_bgcolor="rgba(0,0,0,0)", showlegend=False, annotations=annotations, shapes=shapes, font=dict(family=FONT, color=TXT), bargap=0)
fig.write_html("out.html", config=dict(displayModeBar=False), post_script="document.body.style.margin='0';")
